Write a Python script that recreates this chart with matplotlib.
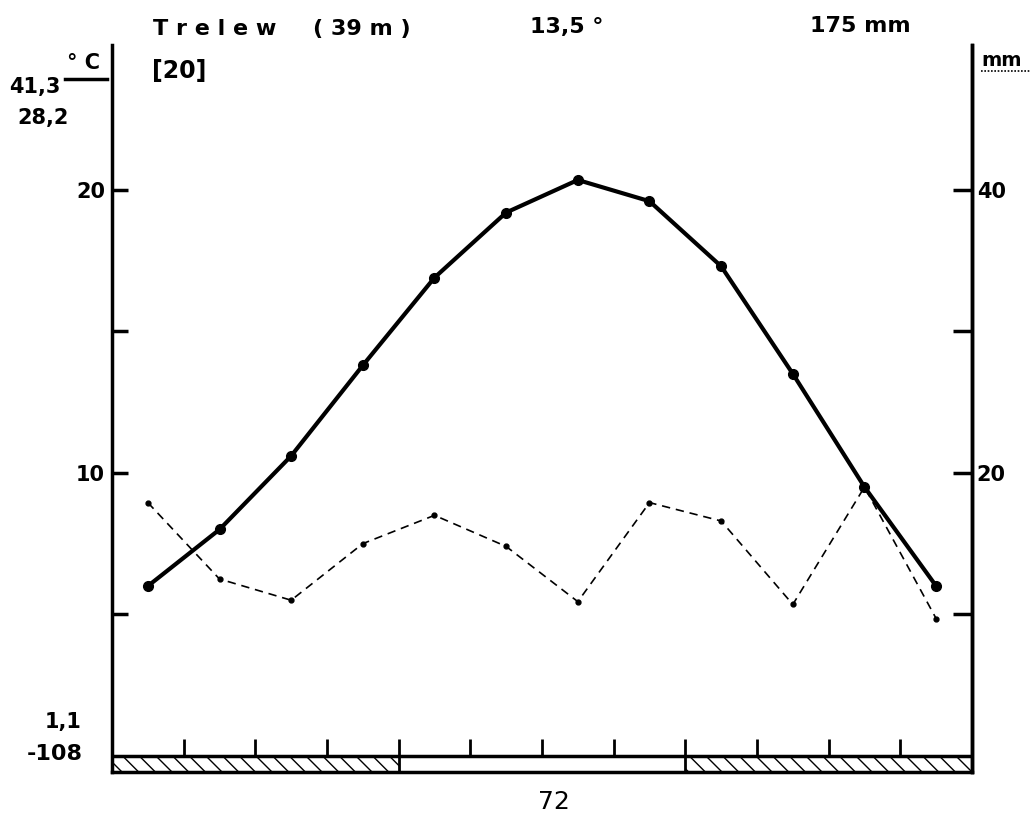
import numpy as np
import matplotlib.pyplot as plt
from matplotlib.patches import Rectangle

# Trelew climate diagram (Walter-Lieth style)
months = np.arange(12) + 0.5
temp = [6.0, 8.0, 10.6, 13.8, 16.9, 19.2, 20.35, 19.6, 17.3, 13.5, 9.5, 6.0]
prec = [17.9, 12.5, 11.0, 15.0, 17.0, 14.8, 10.9, 17.9, 16.6, 10.7, 19.0, 9.7]
frost_start = [0, 8]   # hatched months (start, width 4)
frost_width = 4

W, H = 1034, 818
fig = plt.figure(figsize=(W / 100, H / 100), dpi=100)
ax = fig.add_axes([112 / W, 1 - 772 / H, (972 - 112) / W, (772 - 45) / H])

ylo, yhi = -0.57, 25.12
ax.set_xlim(0, 12)
ax.set_ylim(ylo, yhi)

# temperature
ax.plot(months, temp, color='black', lw=3, marker='o', ms=7, zorder=3)

# baseline, month ticks, frost strip
ax.axhline(0, color='black', lw=2.5)
ax.vlines([1, 2, 3, 5, 6, 7, 9, 10, 11], 0, 0.6, color='black', lw=2)
ax.vlines([4, 8], ylo, 0.6, color='black', lw=2)
for s in frost_start:
    ax.add_patch(Rectangle((s, ylo), frost_width, -ylo, fill=False, hatch='\\\\',
                           edgecolor='black', lw=0))

ax.spines['top'].set_visible(False)
for sp in ['left', 'right', 'bottom']:
    ax.spines[sp].set_linewidth(2.5)
ax.set_xticks([])
ax.set_yticks([5, 10, 15, 20])
ax.set_yticklabels(['', '10', '', '20'])
ax.tick_params(axis='y', direction='in', length=11.5, width=2.5, pad=5,
               labelsize=15)
for t in ax.get_yticklabels():
    t.set_fontweight('bold')

# precipitation (right axis, 10 °C = 20 mm)
ax2 = ax.twinx()
ax2.set_ylim(2 * ylo, 2 * yhi)
ax2.plot(months, prec, color='black', lw=1.2, ls=(0, (5, 3.5)), marker='o', ms=3.5)
for sp in ['top', 'left', 'bottom']:
    ax2.spines[sp].set_visible(False)
ax2.spines['right'].set_linewidth(2.5)
ax2.set_yticks([10, 20, 30, 40])
ax2.set_yticklabels(['', '20', '', '40'])
ax2.tick_params(axis='y', direction='in', length=14, width=2.5, pad=3.5,
                labelsize=15)
for t in ax2.get_yticklabels():
    t.set_fontweight('bold')


def ftext(x, y, s, **kw):
    kw.setdefault('fontsize', 16)
    kw.setdefault('fontweight', 'bold')
    fig.text(x / W, 1 - y / H, s, va='center', **kw)


ftext(153, 29, "T r e l e w")
ftext(313, 29, "( 39 m )")
ftext(152, 71, "[20]", fontsize=17)
ftext(530, 27, "13,5 °")
ftext(810, 26, "175 mm")
ftext(9, 87, "41,3", fontsize=15)
ftext(67, 63, "° C", fontsize=15)
fig.add_artist(plt.Line2D([65 / W, 107 / W], [1 - 79 / H, 1 - 79 / H],
                          color='black', lw=2.5))
ftext(17, 118, "28,2", fontsize=15)
ftext(981, 60, "mm", fontsize=14)
fig.add_artist(plt.Line2D([981 / W, 1030 / W], [1 - 71 / H, 1 - 71 / H],
                          color='black', lw=1.2, ls=(0, (1, 1))))
ftext(45, 722, "1,1", fontsize=15)
ftext(27, 754, "-108", fontsize=16)
ftext(538, 802, "72", fontweight='normal', fontsize=18)

fig.savefig('out.png', dpi=100, facecolor='white')
